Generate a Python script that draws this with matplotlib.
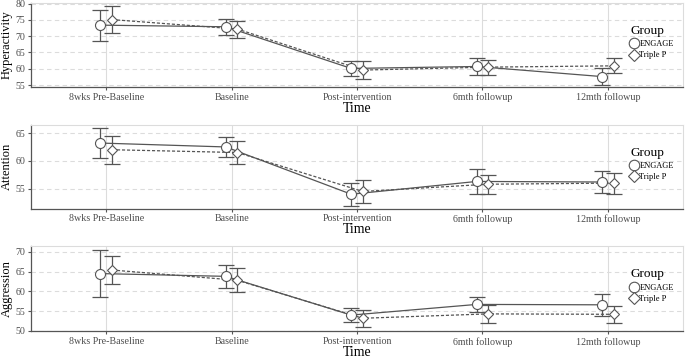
import matplotlib
matplotlib.use("Agg")
import matplotlib.pyplot as plt
from matplotlib.lines import Line2D

plt.rcParams['font.family'] = ['Liberation Serif', 'DejaVu Serif']

# categories on the x axis
times = ['8wks Pre-Baseline', 'Baseline', 'Post-intervention', '6mth followup', '12mth followup']
groups = ['ENGAGE', 'Triple P']

# Hyperactivity means and half-widths of the error bars
hyper_engage = [73.4, 72.9, 60.1, 60.7, 57.6]
hyper_engage_err = [4.8, 2.4, 2.4, 2.5, 2.7]
hyper_triple = [75.1, 72.2, 59.6, 60.5, 60.9]
hyper_triple_err = [4.1, 2.6, 2.7, 2.3, 2.3]

# Attention
att_engage = [63.2, 62.5, 54.0, 56.3, 56.2]
att_engage_err = [2.7, 1.85, 2.1, 2.25, 1.95]
att_triple = [62.0, 61.5, 54.5, 55.8, 56.0]
att_triple_err = [2.55, 2.0, 2.1, 1.7, 1.9]

# Aggression
agg_engage = [64.5, 63.8, 54.0, 56.7, 56.6]
agg_engage_err = [5.9, 2.9, 1.7, 2.0, 2.8]
agg_triple = [65.4, 62.8, 53.2, 54.3, 54.2]
agg_triple_err = [3.5, 3.0, 2.2, 2.3, 2.2]

panels = [
    ('Hyperactivity', hyper_engage, hyper_engage_err, hyper_triple, hyper_triple_err,
     [55, 60, 65, 70, 75, 80], (54.4, 80.2)),
    ('Attention', att_engage, att_engage_err, att_triple, att_triple_err,
     [55, 60, 65], (51.4, 66.5)),
    ('Aggression', agg_engage, agg_engage_err, agg_triple, agg_triple_err,
     [50, 55, 60, 65, 70], (49.9, 71.4)),
]

W, H = 685, 358
fig = plt.figure(figsize=(W / 100, H / 100), dpi=100)
fig.patch.set_facecolor('white')

# panel boxes in pixels: (top, bottom)
boxes = [(3, 87), (124.7, 208.7), (246.3, 331.3)]
left_px, right_px = 31, 683

dark = '#555555'
grid_c = '#dcdcdc'
dodge = 0.046
x = list(range(1, len(times) + 1))

for (name, e_val, e_err, t_val, t_err, yt, ylim), (top, bot) in zip(panels, boxes):
    ax = fig.add_axes([left_px / W, 1 - bot / H, (right_px - left_px) / W, (bot - top) / H])
    xe = [v - dodge for v in x]
    xt = [v + dodge for v in x]

    ax.plot(xe, e_val, color=dark, lw=0.9, ls='-', zorder=3)
    ax.plot(xt, t_val, color=dark, lw=0.9, ls=(0, (2.5, 1.5)), zorder=3)
    ax.errorbar(xe, e_val, yerr=e_err, fmt='none', ecolor=dark, elinewidth=0.9,
                capsize=6, capthick=0.9, zorder=4)
    ax.errorbar(xt, t_val, yerr=t_err, fmt='none', ecolor=dark, elinewidth=0.9,
                capsize=6, capthick=0.9, zorder=4)
    ax.plot(xe, e_val, 'o', ms=7.2, mfc='white', mec=dark, mew=0.8, ls='none', zorder=5)
    ax.plot(xt, t_val, 'D', ms=5.6, mfc='white', mec=dark, mew=0.8, ls='none', zorder=5)

    ax.set_xlim(0.4, 5.6)
    ax.set_ylim(*ylim)
    ax.set_xticks(x)
    ax.set_xticklabels(times)
    ax.set_yticks(yt)
    ax.tick_params(axis='both', labelsize=7.2, colors=dark, labelcolor='#4d4d4d',
                   length=2.5, width=0.8, pad=1.5)
    ax.set_axisbelow(True)
    ax.grid(axis='y', color=grid_c, ls=(0, (4, 3)), lw=0.8)
    ax.grid(axis='x', color=grid_c, ls='-', lw=0.8)
    for s in ['top', 'right']:
        ax.spines[s].set_color(grid_c)
        ax.spines[s].set_linewidth(0.8)
    for s in ['left', 'bottom']:
        ax.spines[s].set_color(dark)
        ax.spines[s].set_linewidth(0.9)
    ax.set_ylabel(name, fontsize=9, labelpad=2)
    ax.set_xlabel('Time', fontsize=10, labelpad=-0.5)

    handles = [Line2D([], [], marker='o', ls='none', ms=7.6, mfc='white', mec=dark, mew=0.8),
               Line2D([], [], marker='D', ls='none', ms=6.0, mfc='white', mec=dark, mew=0.8)]
    leg = ax.legend(handles, groups, title='Group', loc='upper left',
                    bbox_to_anchor=(0.914, 0.78), frameon=False, fontsize=6,
                    title_fontsize=9.5, handlelength=0.8, handletextpad=0.3,
                    labelspacing=0.4, borderaxespad=0)
    leg._legend_box.align = 'left'

fig.savefig('out.png', dpi=100)
